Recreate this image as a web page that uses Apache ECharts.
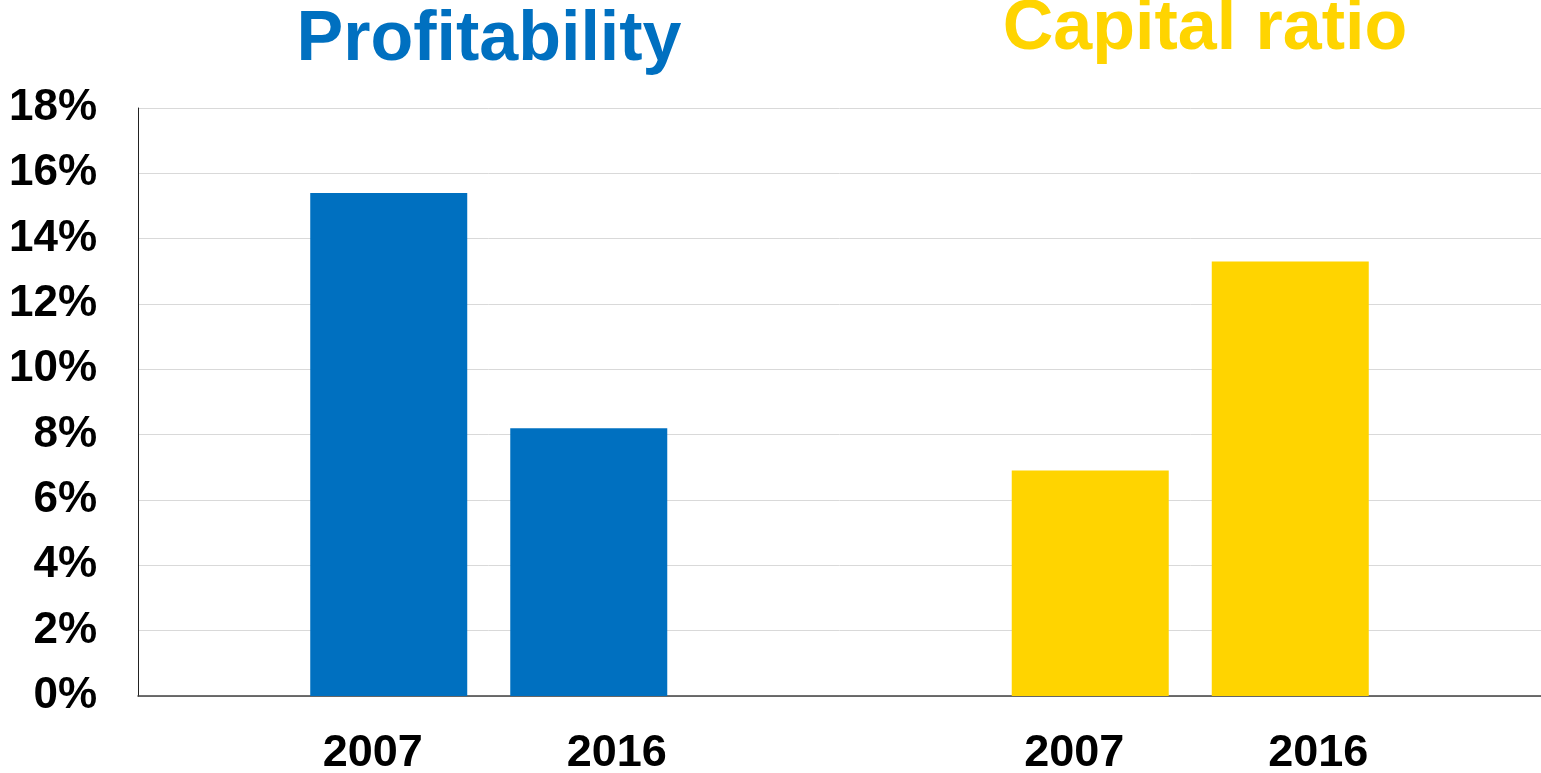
<!DOCTYPE html>
<html>
<head>
<meta charset="utf-8">
<script src="https://cdn.jsdelivr.net/npm/echarts@6/dist/echarts.min.js"></script>
<style>
  html, body { margin: 0; padding: 0; background: #fff; }
  #main { width: 1541px; height: 773px; }
</style>
</head>
<body>
<div id="main"></div>
<script>
// 两组指标
var groups = ["Profitability", "Capital ratio"];
var groupColors = ["#0070C0", "#FFD400"];
var years = ["2007", "2016"];
// 每年对应两组的数值（%）
var values2007 = [15.4, 6.9];
var values2016 = [8.2, 13.3];
var yTicks = [0, 18, 2];

var chartDom = document.getElementById("main");
var myChart = echarts.init(chartDom);
var option;

var font = "'Liberation Sans', Arial, sans-serif";

function makeSeries(name, data, labelShift) {
  return {
    name: name,
    type: "bar",
    barWidth: 157,
    barGap: "27.4%",
    data: data,
    itemStyle: {
      color: function (p) {
        return groupColors[p.dataIndex];
      },
    },
    label: {
      show: true,
      position: "bottom",
      distance: 35,
      offset: [labelShift, 0],
      formatter: "{a}",
      color: "#000",
      fontSize: 45,
      fontWeight: "bold",
      fontFamily: font,
    },
  };
}

option = {
  backgroundColor: "#fff",
  animation: false,
  title: [
    {
      text: groups[0],
      left: 489,
      top: 6,
      textAlign: "center",
      padding: 0,
      textStyle: { color: groupColors[0], fontSize: 70, fontWeight: "bold", fontFamily: font, lineHeight: 70 },
    },
    {
      text: groups[1],
      left: 1205,
      top: -5,
      textAlign: "center",
      padding: 0,
      textStyle: { color: groupColors[1], fontSize: 70, fontWeight: "bold", fontFamily: font, lineHeight: 70 },
    },
  ],
  grid: {
    left: 138,
    right: 0,
    top: 108,
    bottom: 77,
    containLabel: false,
  },
  xAxis: {
    type: "category",
    data: groups,
    axisLine: { show: true, lineStyle: { color: "#404040", width: 1.5 } },
    axisTick: { show: false },
    axisLabel: { show: false },
  },
  yAxis: {
    type: "value",
    min: yTicks[0],
    max: yTicks[1],
    interval: yTicks[2],
    axisLine: { show: true, lineStyle: { color: "#222", width: 1 } },
    axisTick: { show: false },
    splitLine: { lineStyle: { color: "#d9d9d9", width: 1 } },
    axisLabel: {
      formatter: "{value}%",
      color: "#000",
      fontSize: 44,
      fontWeight: "bold",
      fontFamily: font,
      margin: 41,
    },
  },
  series: [makeSeries(years[0], values2007, -16), makeSeries(years[1], values2016, 28)],
};

option && myChart.setOption(option);
</script>
</body>
</html>
